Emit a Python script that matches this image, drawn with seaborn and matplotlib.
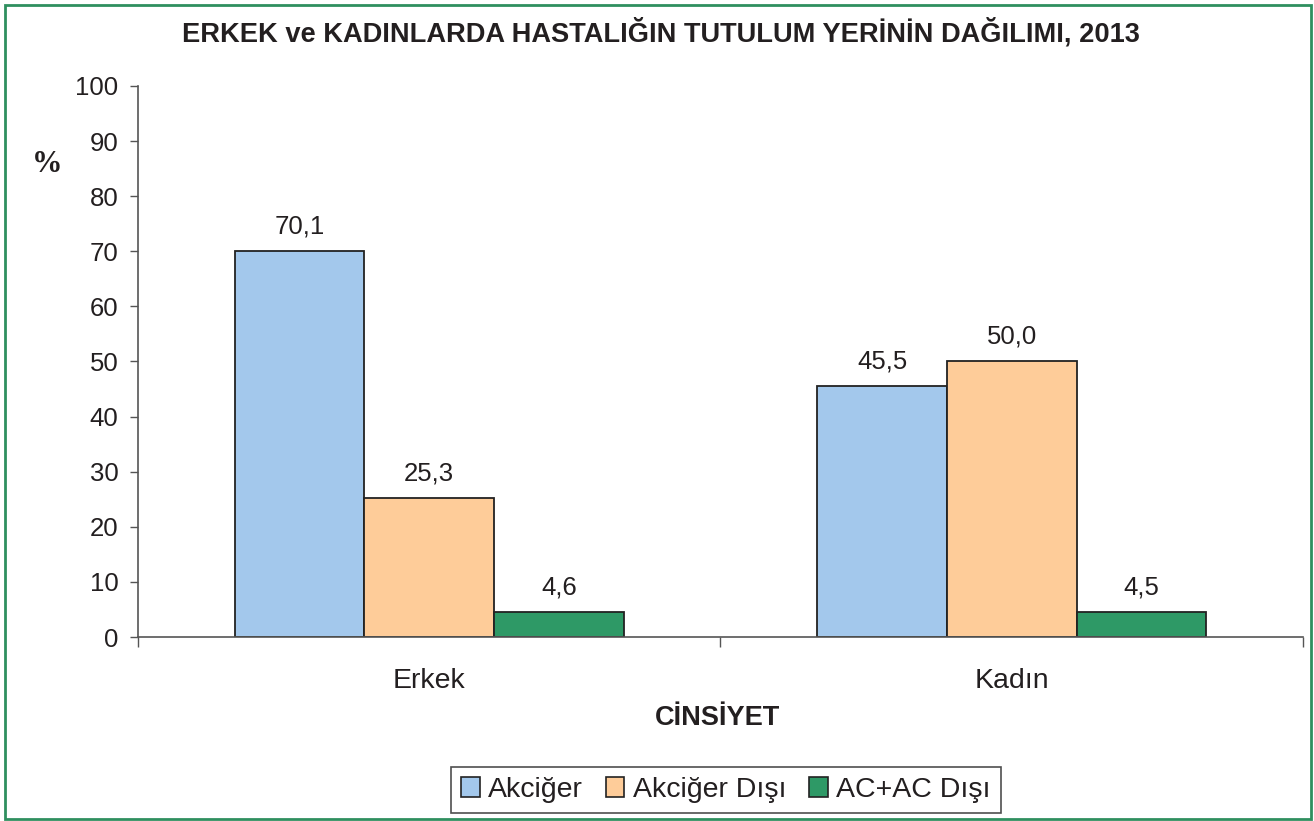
import pandas as pd
import matplotlib
matplotlib.use("Agg")
import matplotlib.pyplot as plt
import seaborn as sns
from matplotlib.patches import Rectangle

# values
cinsiyet = ["Erkek", "Kadın"]
tutulum = ["Akciğer", "Akciğer Dışı", "AC+AC Dışı"]
erkek = [70.1, 25.3, 4.6]
kadin = [45.5, 50.0, 4.5]
renkler = ["#A3C8EC", "#FECC99", "#2E9966"]
y_ticks = [0, 10, 20, 30, 40, 50, 60, 70, 80, 90, 100]

rows = []
for t, e, k in zip(tutulum, erkek, kadin):
    rows.append({"Cinsiyet": cinsiyet[0], "Tutulum": t, "Yuzde": e})
    rows.append({"Cinsiyet": cinsiyet[1], "Tutulum": t, "Yuzde": k})
df = pd.DataFrame(rows)

sns.set_style("white")
plt.rcParams["font.family"] = ["Liberation Sans", "DejaVu Sans"]

fig = plt.figure(figsize=(13.14, 8.21), dpi=100)
ax = fig.add_axes([0.105, 0.2241, 0.8866, 0.6712])

sns.barplot(data=df, x="Cinsiyet", y="Yuzde", hue="Tutulum", order=cinsiyet,
            hue_order=tutulum, palette=renkler, width=0.668, edgecolor="#222222",
            linewidth=1.3, saturation=1, legend=False, ax=ax)

for cont in ax.containers:
    ax.bar_label(cont, labels=[f"{v:.1f}".replace(".", ",") for v in cont.datavalues],
                 padding=9, fontsize=18.5, color="#231f20")

ax.set_ylim(0, 100)
ax.set_xlim(-0.5, 1.5)
ax.set_yticks(y_ticks)
ax.tick_params(axis="y", which="major", direction="out", length=6, width=1,
               color="#555555", labelsize=18.5, labelcolor="#231f20", pad=8, left=True)
ax.tick_params(axis="x", which="major", length=0, labelsize=20.5, labelcolor="#231f20", pad=22)
ax.set_xticks([-0.5, 0.5, 1.5], minor=True)
ax.tick_params(axis="x", which="minor", direction="out", length=7, width=1,
               color="#555555", bottom=True)
ax.set_xlabel("")
ax.set_ylabel("")
sns.despine(ax=ax)
for s in ["left", "bottom"]:
    ax.spines[s].set_color("#555555")
    ax.spines[s].set_linewidth(1.2)

fig.text(661 / 1314, 1 - 33 / 821, "ERKEK ve KADINLARDA HASTALIĞIN TUTULUM YERİNİN DAĞILIMI, 2013",
         ha="center", va="center", fontsize=19.6, fontweight="bold", color="#231f20")
fig.text(718 / 1314, 1 - 718 / 821, "CİNSİYET", ha="center", va="center",
         fontsize=19.5, fontweight="bold", color="#231f20")
fig.text(47 / 1314, 1 - 165 / 821, "%", ha="center", va="center", fontsize=22,
         fontweight="bold", family=["Liberation Serif"], color="#231f20")

handles = [Rectangle((0, 0), 1, 1, facecolor=c, edgecolor="#222222", linewidth=1.2) for c in renkler]
leg = fig.legend(handles, tutulum, loc="center", bbox_to_anchor=(726 / 1314, 1 - 790 / 821),
                 ncol=3, fontsize=20.5, frameon=True, fancybox=False, edgecolor="#222222",
                 handlelength=0.65, handleheight=0.65, handletextpad=0.3, columnspacing=0.8,
                 borderpad=0.35, labelcolor="#231f20")
leg.get_frame().set_linewidth(1.2)

fig.patches.append(Rectangle((5 / 1314, 2 / 821), 1306 / 1314, 814 / 821, transform=fig.transFigure,
                             fill=False, edgecolor="#2F8F5F", linewidth=2))

fig.savefig("out.png", dpi=100)
